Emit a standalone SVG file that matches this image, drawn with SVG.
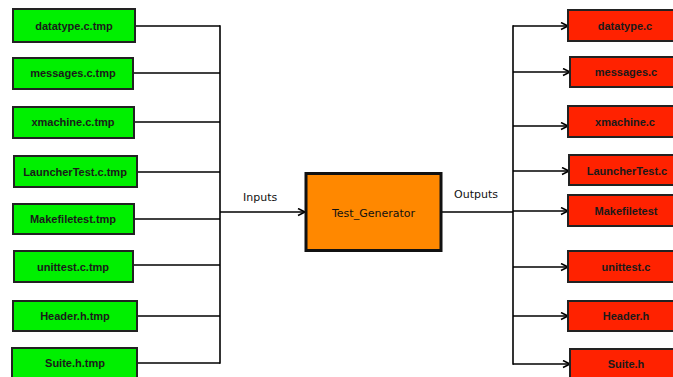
<svg xmlns="http://www.w3.org/2000/svg" width="673" height="377" viewBox="0 0 673 377">
<defs>
<marker id="arr" markerWidth="10" markerHeight="10" refX="8" refY="4" orient="auto" markerUnits="userSpaceOnUse">
<path d="M1,0.5 L8,4 L1,7.5" fill="none" stroke="#000" stroke-width="1.6"/>
</marker>
<style>
.in rect{fill:#00f000;stroke:#222;stroke-width:2}
.out rect{fill:#ff2200;stroke:#222;stroke-width:2}
.lbl{font-family:"Liberation Sans",Arial,sans-serif;font-weight:bold;font-size:11px;fill:#1a1a1a;text-anchor:middle}
.mid{font-family:"DejaVu Sans",Verdana,sans-serif;font-size:11px;fill:#111}
.c line,.c path{stroke:#000;stroke-width:1.6;fill:none}
</style>
</defs>
<rect width="673" height="377" fill="#fff"/>
<g class="c" id="connectors">
<line x1="135" y1="26" x2="220" y2="26"/>
<line x1="133" y1="73" x2="220" y2="73"/>
<line x1="134" y1="122" x2="220" y2="122"/>
<line x1="137" y1="172" x2="220" y2="172"/>
<line x1="134" y1="219" x2="220" y2="219"/>
<line x1="133" y1="265" x2="220" y2="265"/>
<line x1="137" y1="316" x2="220" y2="316"/>
<line x1="137" y1="363" x2="220" y2="363"/>
<line x1="220" y1="25.2" x2="220" y2="363.8"/>
<line x1="220" y1="212" x2="305" y2="212" marker-end="url(#arr)"/>
<line x1="442" y1="212" x2="513" y2="212"/>
<line x1="513" y1="25.2" x2="513" y2="364.8"/>
<line x1="513" y1="26" x2="568" y2="26" marker-end="url(#arr)"/>
<line x1="513" y1="72" x2="570" y2="72" marker-end="url(#arr)"/>
<line x1="513" y1="126" x2="568" y2="126" marker-end="url(#arr)"/>
<line x1="513" y1="171" x2="569" y2="171" marker-end="url(#arr)"/>
<line x1="513" y1="211" x2="568" y2="211" marker-end="url(#arr)"/>
<line x1="513" y1="267" x2="568" y2="267" marker-end="url(#arr)"/>
<line x1="513" y1="316" x2="568" y2="316" marker-end="url(#arr)"/>
<line x1="513" y1="364" x2="570" y2="364" marker-end="url(#arr)"/>
</g>
<text class="mid" x="243" y="201">Inputs</text>
<text class="mid" x="454" y="198">Outputs</text>
<g id="in1" class="in"><rect x="13" y="9" width="122" height="33"/><text class="lbl" x="74" y="30">datatype.c.tmp</text></g>
<g id="in2" class="in"><rect x="13" y="58" width="120" height="31"/><text class="lbl" x="73" y="77">messages.c.tmp</text></g>
<g id="in3" class="in"><rect x="13" y="107" width="121" height="31"/><text class="lbl" x="73" y="126">xmachine.c.tmp</text></g>
<g id="in4" class="in"><rect x="14" y="156" width="123" height="31"/><text class="lbl" x="75" y="176">LauncherTest.c.tmp</text></g>
<g id="in5" class="in"><rect x="13" y="204" width="121" height="30"/><text class="lbl" x="73" y="223">Makefiletest.tmp</text></g>
<g id="in6" class="in"><rect x="14" y="251" width="119" height="31"/><text class="lbl" x="73" y="271">unittest.c.tmp</text></g>
<g id="in7" class="in"><rect x="13" y="301" width="124" height="30"/><text class="lbl" x="75" y="320">Header.h.tmp</text></g>
<g id="in8" class="in"><rect x="12" y="348" width="125" height="34"/><text class="lbl" x="75" y="367">Suite.h.tmp</text></g>
<g id="gen"><rect x="306" y="173.5" width="135" height="77" fill="#ff8800" stroke="#111" stroke-width="3"/><text class="mid" x="373.5" y="217" text-anchor="middle">Test_Generator</text></g>
<g id="out1" class="out"><rect x="568" y="10" width="115" height="31"/><text class="lbl" x="625" y="30">datatype.c</text></g>
<g id="out2" class="out"><rect x="570" y="57" width="115" height="30"/><text class="lbl" x="626" y="76">messages.c</text></g>
<g id="out3" class="out"><rect x="568" y="106" width="115" height="31"/><text class="lbl" x="625" y="126">xmachine.c</text></g>
<g id="out4" class="out"><rect x="569" y="155" width="115" height="30"/><text class="lbl" x="627" y="175">LauncherTest.c</text></g>
<g id="out5" class="out"><rect x="568" y="195" width="115" height="31"/><text class="lbl" x="626" y="215">Makefiletest</text></g>
<g id="out6" class="out"><rect x="568" y="251" width="115" height="31"/><text class="lbl" x="626" y="271">unittest.c</text></g>
<g id="out7" class="out"><rect x="568" y="301" width="115" height="30"/><text class="lbl" x="626" y="320">Header.h</text></g>
<g id="out8" class="out"><rect x="570" y="349" width="115" height="34"/><text class="lbl" x="626" y="368">Suite.h</text></g>
</svg>
